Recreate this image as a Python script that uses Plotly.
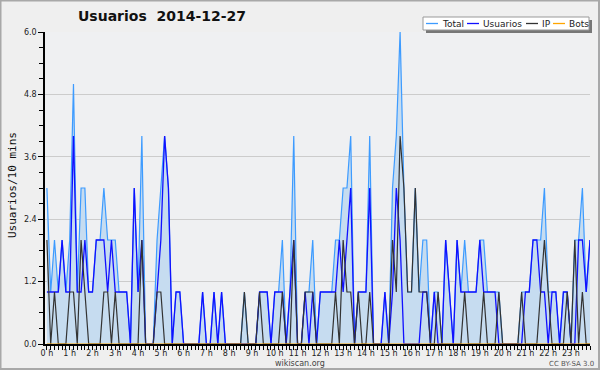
import plotly.graph_objects as go

# 10-minute slots, 0..143
slots = list(range(144))
hour_labels = [f"{h} h" for h in range(24)]

usuarios = [1,1,1,1,2,1,1,4,1,1, 2,1,1,2,2,2,1,2,1,1,
            1,1,0,3,1,2,0,0,0,1, 2,4,3,0,1,1,0,0,0,0,
            0,1,0,0,1,0,1,0,0,0, 0,0,0,0,0,0,1,1,1,0,
            1,1,1,0,1,2,0,0,1,0, 1,0,1,1,1,1,1,2,1,2,
            3,0,1,1,1,3,0,0,0,1, 0,1,3,2,0,0,0,0,0,1,
            1,0,1,0,0,2,1,0,2,1, 1,1,1,1,2,1,1,1,1,0,
            0,0,0,0,0,0,1,1,2,2, 1,1,0,1,1,0,1,1,0,0,
            2,2,1,2]
ip = [2,0,1,0,0,0,1,1,0,2, 1,0,0,0,0,1,1,0,1,0,
      0,0,0,0,0,2,0,0,0,1, 1,0,0,0,0,0,0,0,0,0,
      0,0,0,0,0,0,0,0,0,0, 0,0,1,0,0,0,1,0,0,0,
      0,0,1,0,0,2,0,0,1,1, 1,0,0,0,0,0,1,0,2,1,
      1,0,1,0,0,1,0,0,0,0, 0,2,1,4,3,1,1,3,1,1,
      1,0,0,1,0,0,0,0,0,0, 1,0,0,0,0,1,0,0,0,1,
      0,0,0,0,0,1,0,0,0,0, 1,2,1,0,0,0,0,1,0,2,
      0,1,0,0]
total = [3,1,2,1,2,1,2,5,1,3, 3,1,1,2,2,3,2,2,2,1,
         1,1,0,3,1,4,0,0,0,2, 3,4,3,0,1,1,0,0,0,0,
         0,1,0,0,1,0,1,0,0,0, 0,0,1,0,0,0,1,1,1,0,
         1,1,2,0,1,4,0,0,1,1, 2,0,1,1,1,1,2,2,3,3,
         4,0,1,1,1,4,0,0,0,1, 0,3,4,6,3,1,1,3,1,2,
         2,0,1,1,0,2,1,0,2,1, 2,1,1,1,2,2,1,1,1,1,
         0,0,0,0,0,1,1,1,2,2, 2,3,1,1,1,0,1,1,0,2,
         2,3,1,2]
bots = [0] * 144

W, H = 600, 370
ML, MR, MT, MB = 45, 10, 32, 26
PW, PH = W - ML - MR, H - MT - MB


def px(x):
    return (x - ML) / PW


def py(y):
    return (H - MB - y) / PH


fig = go.Figure()
fig.add_trace(go.Scatter(x=slots, y=total, name="Total", mode="lines",
                         line=dict(color="#3d9bff", width=1.2),
                         fill="tozeroy", fillcolor="#c6dcf0"))
fig.add_trace(go.Scatter(x=slots, y=usuarios, name="Usuarios", mode="lines",
                         line=dict(color="#1010ff", width=1.3)))
fig.add_trace(go.Scatter(x=slots, y=ip, name="IP", mode="lines",
                         line=dict(color="#333333", width=1.2)))
fig.add_trace(go.Scatter(x=slots, y=bots, name="Bots", mode="lines",
                         line=dict(color="#ffa500", width=1.2)))

shapes = []
# outer frame
shapes.append(dict(type="rect", xref="paper", yref="paper",
                   x0=px(0.5), x1=px(599), y0=py(369), y1=py(0.5),
                   line=dict(color="#a8a8a8", width=2), fillcolor="rgba(0,0,0,0)"))
# legend shadow and box
shapes.append(dict(type="rect", xref="paper", yref="paper",
                   x0=px(426), x1=px(592), y0=py(33), y1=py(20),
                   line=dict(width=0), fillcolor="#777777"))
shapes.append(dict(type="rect", xref="paper", yref="paper",
                   x0=px(423), x1=px(589), y0=py(30), y1=py(17),
                   line=dict(color="#999999", width=1), fillcolor="#ffffff"))

legend_items = [("Total", "#3d9bff", 426, 441),
                ("Usuarios", "#1010ff", 467, 482),
                ("IP", "#333333", 526, 541),
                ("Bots", "#ffa500", 553, 568)]
annotations = []
for name, col, lx, tx in legend_items:
    shapes.append(dict(type="line", xref="paper", yref="paper",
                       x0=px(lx), x1=px(lx + 12), y0=py(23.5), y1=py(23.5),
                       line=dict(color=col, width=1.3)))
    annotations.append(dict(text=name, xref="paper", yref="paper",
                            x=px(tx), y=py(23.5), xanchor="left", yanchor="middle",
                            showarrow=False, borderpad=0,
                            font=dict(family="DejaVu Sans", size=9, color="#222")))

annotations.append(dict(text="<b>Usuarios  2014-12-27</b>", xref="paper", yref="paper",
                        x=px(76), y=py(16), xanchor="left", yanchor="middle",
                        showarrow=False,
                        font=dict(family="DejaVu Sans", size=14, color="#111")))
annotations.append(dict(text="Usuarios/10 mins", xref="paper", yref="paper",
                        x=px(12), y=py(185), xanchor="center", yanchor="middle",
                        textangle=-90, showarrow=False,
                        font=dict(family="DejaVu Sans Mono", size=11, color="#111")))
annotations.append(dict(text="wikiscan.org", xref="paper", yref="paper",
                        x=px(300), y=py(363), xanchor="center", yanchor="middle",
                        showarrow=False, borderpad=0,
                        font=dict(family="DejaVu Sans", size=8, color="#444")))
annotations.append(dict(text="CC BY-SA 3.0", xref="paper", yref="paper",
                        x=px(595), y=py(363.5), xanchor="right", yanchor="middle",
                        showarrow=False, borderpad=0,
                        font=dict(family="DejaVu Sans", size=7, color="#555")))

fig.update_layout(
    width=W, height=H,
    margin=dict(l=ML, r=MR, t=MT, b=MB, pad=0),
    paper_bgcolor="#efefef",
    plot_bgcolor="#eff0f2",
    showlegend=False,
    shapes=shapes,
    annotations=annotations,
    xaxis=dict(range=[-0.5, 143], tickvals=list(range(0, 144, 6)), ticktext=hour_labels,
               ticks="outside", ticklen=4, tickcolor="black", tickwidth=1,
               ticklabelstandoff=-4,
               showgrid=False, zeroline=False, showline=True, linecolor="black",
               linewidth=2, tickfont=dict(family="DejaVu Sans", size=8, color="#222"),
               minor=dict(dtick=1, tick0=0, ticks="outside", ticklen=4,
                          tickcolor="black", showgrid=False)),
    yaxis=dict(range=[0, 6], dtick=1.2, tick0=0, tickformat=".1f",
               ticks="outside", ticklen=5, tickcolor="black",
               showgrid=True, gridcolor="#cccccc", gridwidth=1,
               zeroline=False, showline=True, linecolor="black", linewidth=1.5,
               tickfont=dict(family="DejaVu Sans", size=8, color="#222"),
               minor=dict(dtick=0.3, ticks="outside", ticklen=4,
                          tickcolor="black", showgrid=False)),
)

fig.write_html("out.html", config={"displayModeBar": False})

# remove the default page margin so the figure sits at the window's corner
with open("out.html", "r", encoding="utf-8") as f:
    html = f.read()
html = html.replace("<head>", "<head><style>html,body{margin:0;padding:0;overflow:hidden;}</style>", 1)
with open("out.html", "w", encoding="utf-8") as f:
    f.write(html)
